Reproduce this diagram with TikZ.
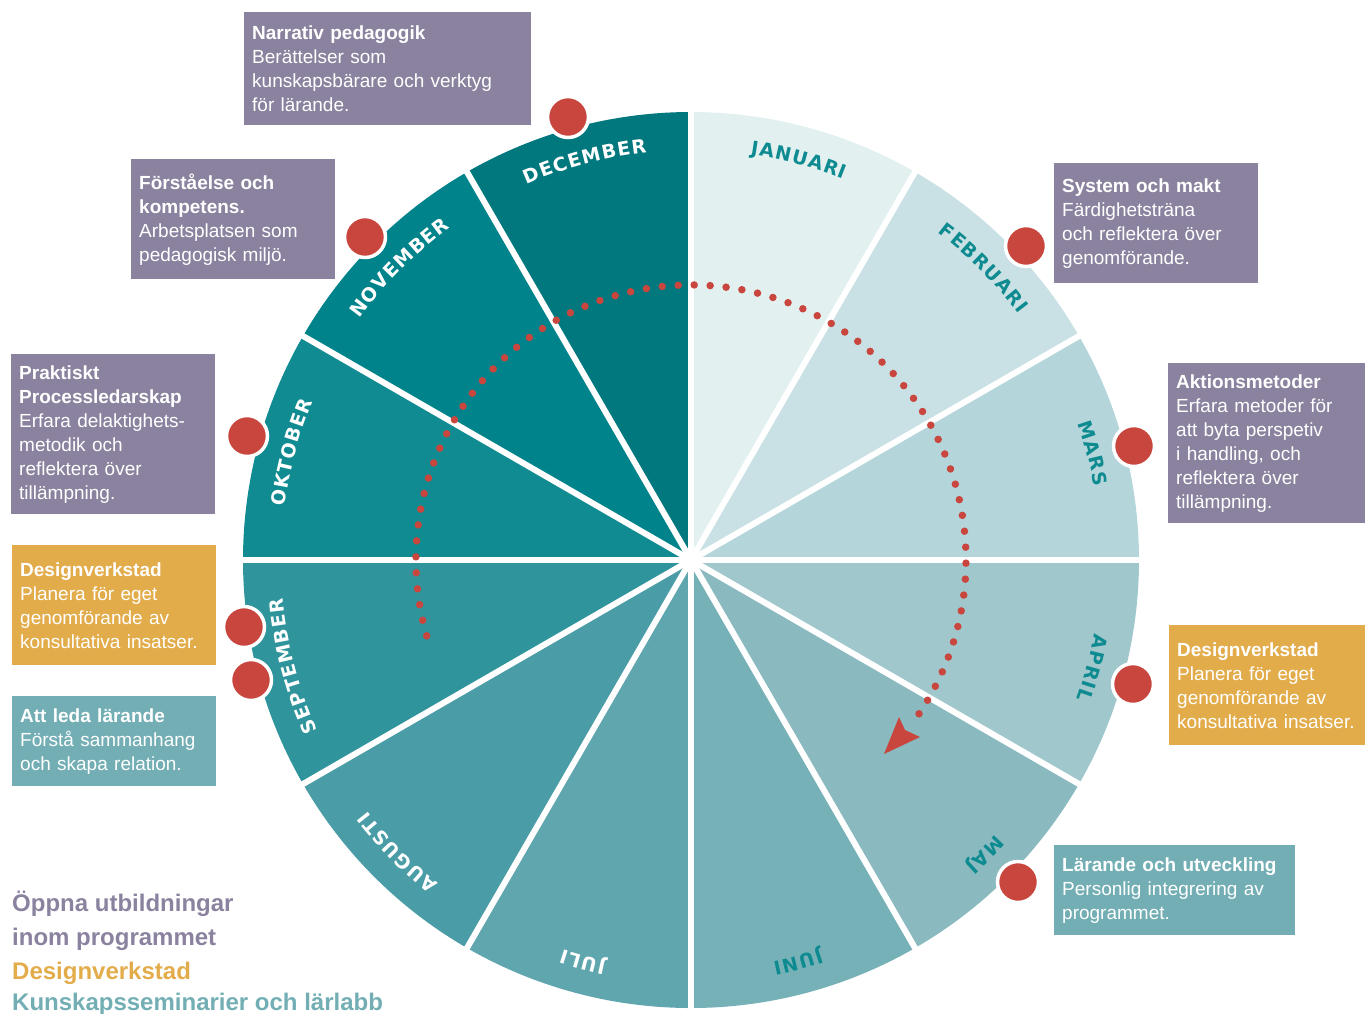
\documentclass[tikz,border=0pt]{standalone}
\usepackage{fontspec}
\setmainfont{Liberation Sans}
\newfontfamily\heavyfont{DejaVu Sans}
\usetikzlibrary{decorations.text}
\definecolor{purp}{HTML}{8A829E}
\definecolor{orng}{HTML}{E3AC4B}
\definecolor{tealbox}{HTML}{72AEB4}
\definecolor{dotred}{HTML}{C8463D}
\definecolor{mteal}{HTML}{0E8B90}
\definecolor{cJan}{HTML}{E3F0F0}
\definecolor{cFeb}{HTML}{C9E1E4}
\definecolor{cMar}{HTML}{B4D6DA}
\definecolor{cApr}{HTML}{A0C7CC}
\definecolor{cMay}{HTML}{8ABAC0}
\definecolor{cJun}{HTML}{76B1B8}
\definecolor{cJul}{HTML}{5FA6AF}
\definecolor{cAug}{HTML}{4A9CA6}
\definecolor{cSep}{HTML}{30949C}
\definecolor{cOkt}{HTML}{108B91}
\definecolor{cNov}{HTML}{00838A}
\definecolor{cDec}{HTML}{00787E}
\newcommand\lblfmt{\heavyfont\fontsize{19}{19}\selectfont\bfseries\kern1.2pt}
\newcommand\monthlabel[3]{%
  \path[decorate, decoration={text along path, text={|\lblfmt\color{#2}|#3}, text align=center}]
    (#1+15:410) arc[start angle=#1+15, end angle=#1-15, radius=410];}
\begin{document}
\begin{tikzpicture}[x=1pt,y=1pt,
  infobox/.style={anchor=north west, inner xsep=8pt, inner ysep=0pt, align=left, text=white,
    font=\fontsize{19}{24}\selectfont},
  reddot/.style={circle, fill=dotred, draw=white, line width=3.5pt, minimum size=41pt, inner sep=0pt},
  legend/.style={anchor=base west, font=\fontsize{24}{34}\selectfont\bfseries, inner sep=0pt},
  sepline/.style={white, line width=6pt},
  dotpath/.style={dotred, line width=7.5pt, line cap=round, dash pattern=on 0pt off 16pt},
]
\useasboundingbox (0,0) rectangle (1365,-1013);
\begin{scope}[shift={(691,-560)}]
  \coordinate (c) at (0,0);
  \foreach \col [count=\i] in {cJan,cFeb,cMar,cApr,cMay,cJun,cJul,cAug,cSep,cOkt,cNov,cDec}{
    \pgfmathsetmacro{\a}{90-30*(\i-1)}
    \fill[\col] (c) -- (\a:448) arc[start angle=\a, end angle=\a-30, radius=448] -- cycle;
  }
  \foreach \a in {0,30,...,330}{
    \draw[sepline] (c) -- (\a:456);
  }
  \monthlabel{75}{mteal}{JANUARI}
  \monthlabel{45}{mteal}{FEBRUARI}
  \monthlabel{15}{mteal}{MARS}
  \monthlabel{-15}{mteal}{APRIL}
  \monthlabel{-45}{mteal}{MAJ}
  \monthlabel{-75}{mteal}{JUNI}
  \monthlabel{-105}{white}{JULI}
  \monthlabel{-135}{white}{AUGUSTI}
  \monthlabel{-165}{white}{SEPTEMBER}
  \monthlabel{165}{white}{OKTOBER}
  \monthlabel{135}{white}{NOVEMBER}
  \monthlabel{105}{white}{DECEMBER}
  \draw[dotpath] (196:275) arc[start angle=196, end angle=-37, radius=275];
\end{scope}
\fill[dotred] (884,-754) -- (899,-717) -- (905,-730) -- (920,-737) -- cycle;

% red markers
\node[reddot] (dDec) at (568,-117) {};
\node[reddot] (dNov) at (365,-237) {};
\node[reddot] (dOkt) at (247,-436) {};
\node[reddot] (dSep1) at (244,-627) {};
\node[reddot] (dSep2) at (251,-680) {};
\node[reddot] (dFeb) at (1026,-246) {};
\node[reddot] (dMar) at (1134,-446) {};
\node[reddot] (dApr) at (1133,-684) {};
\node[reddot] (dMay) at (1018,-882) {};

% info boxes
\node[infobox, fill=purp, text width=271pt, minimum height=113pt] (bNarr) at (244,-12)
  {\textbf{Narrativ pedagogik}\\Berättelser som\\kunskapsbärare och verktyg\\för lärande.};
\node[infobox, fill=purp, text width=188pt, minimum height=120pt] (bForst) at (131,-159)
  {\textbf{Förståelse och}\\\textbf{kompetens.}\\Arbetsplatsen som\\pedagogisk miljö.};
\node[infobox, fill=purp, text width=188pt, minimum height=160pt] (bPrakt) at (11,-354)
  {\textbf{Praktiskt}\\\textbf{Processledarskap}\\Erfara delaktighets-\\metodik och\\reflektera över\\tillämpning.};
\node[infobox, fill=orng, text width=188pt, minimum height=120pt] (bDesL) at (12,-545)
  {\textbf{Designverkstad}\\Planera för eget\\genomförande av\\konsultativa insatser.};
\node[infobox, fill=tealbox, text width=188pt, minimum height=90pt] (bLeda) at (12,-696)
  {\textbf{Att leda lärande}\\Förstå sammanhang\\och skapa relation.};
\node[infobox, fill=purp, text width=188pt, minimum height=120pt] (bSys) at (1054,-163)
  {\textbf{System och makt}\\Färdighetsträna\\och reflektera över\\genomförande.};
\node[infobox, fill=purp, text width=181pt, minimum height=160pt] (bAkt) at (1168,-363)
  {\textbf{Aktionsmetoder}\\Erfara metoder för\\att byta perspetiv\\i handling, och\\reflektera över\\tillämpning.};
\node[infobox, fill=orng, text width=180pt, minimum height=120pt] (bDesR) at (1169,-625)
  {\textbf{Designverkstad}\\Planera för eget\\genomförande av\\konsultativa insatser.};
\node[infobox, fill=tealbox, text width=225pt, minimum height=90pt] (bLar) at (1054,-845)
  {\textbf{Lärande och utveckling}\\Personlig integrering av\\programmet.};

% legend
\node[legend, text=purp] (lg1) at (12,-911) {Öppna utbildningar};
\node[legend, text=purp] (lg2) at (12,-945) {inom programmet};
\node[legend, text=orng] (lg3) at (12,-979) {Designverkstad};
\node[legend, text=tealbox] (lg4) at (12,-1010) {Kunskapsseminarier och lärlabb};
\end{tikzpicture}
\end{document}
